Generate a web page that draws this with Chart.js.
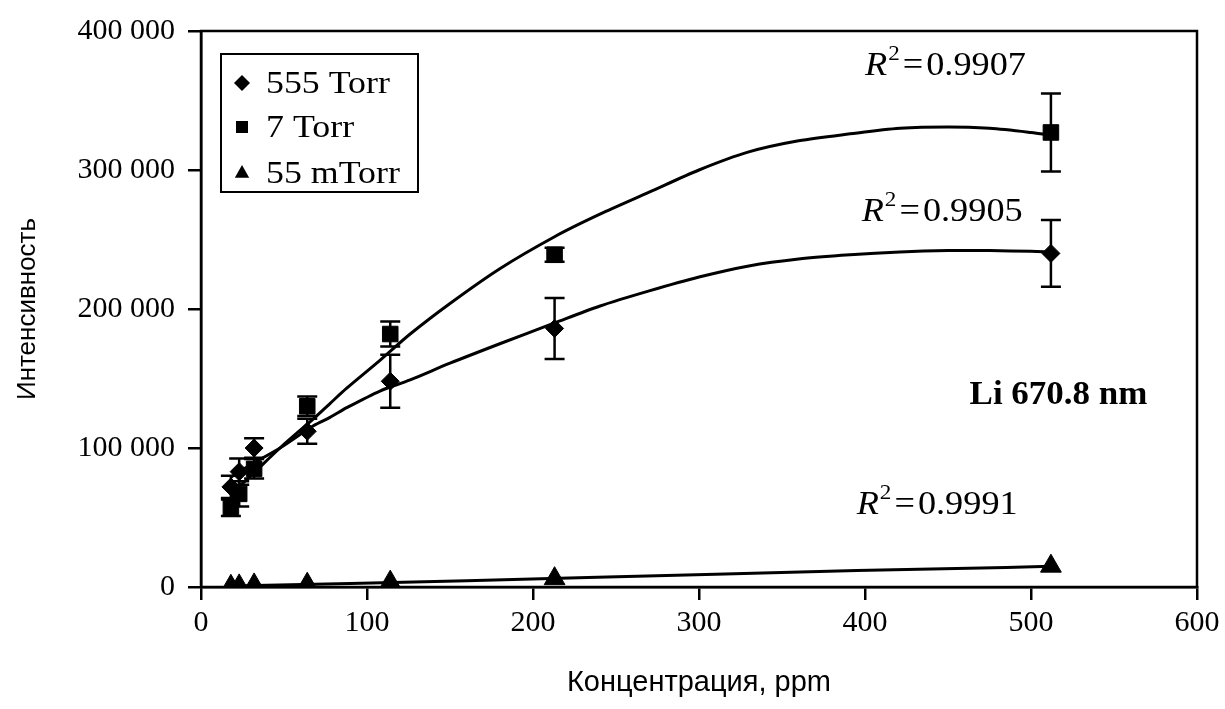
<!DOCTYPE html>
<html lang="ru">
<head>
<meta charset="utf-8">
<title>Li 670.8 nm</title>
<script src="https://cdn.jsdelivr.net/npm/chart.js@4.4.1/dist/chart.umd.min.js"></script>
<style>
    body { margin: 0; background: #fff; }
    #wrap { width: 1225px; height: 709px; }
</style>
</head>
<body>
<div id="wrap"><canvas id="myChart" width="1225" height="709"></canvas></div>
<script>
// Концентрации образцов, ppm
var concentrations = [18, 23, 32, 64, 114, 213, 512];

// Интенсивность линии Li 670.8 nm при разных давлениях
var int555Torr = [72000, 83000, 100000, 112000, 148000, 186000, 240000];
var err555Torr = [8000, 9500, 7000, 9000, 19000, 22000, 24000];
var int7Torr = [57000, 67000, 85000, 130000, 182000, 239000, 327000];
var err7Torr = [6000, 9000, 7000, 7000, 9000, 5000, 28000];
var int55mTorr = [500, 800, 1500, 2000, 3500, 6000, 15000];

// Линии тренда (полиномиальная аппроксимация)
var trendX = [18, 30, 47.6, 67.7, 77.7, 87.8, 107.8, 126, 150, 180, 213, 240, 270, 300, 330, 360, 391, 421, 450, 475, 500, 512];
var trend555Torr = [79000, 88000, 100000, 116000, 122000, 129000, 141000, 149000, 161000, 175000, 190000, 202000, 213000, 223000, 231000, 236000, 239000, 241000, 242000, 242000, 241500, 241000];
var trend7Torr = [67000, 80000, 100000, 121000, 132000, 143000, 163000, 182000, 204000, 229000, 252000, 268000, 284000, 300000, 313000, 321000, 326000, 330000, 331000, 330000, 327000, 325000];
var trendMX = [18, 90, 160, 233, 310, 395, 485, 512];
var trend55mTorr = [700, 2500, 4500, 6800, 9200, 11800, 14000, 15000];

var r2Labels = ['0.9907', '0.9905', '0.9991'];

var serif = '"Liberation Serif", "Times New Roman", serif';
var sans = '"Liberation Sans", Arial, sans-serif';

function toPoints(xs, ys) {
    return xs.map(function (x, i) { return { x: x, y: ys[i] }; });
}

function spaced(v) {
    return String(v).replace(/\B(?=(\d{3})+(?!\d))/g, ' ');
}

// маркер легенды той же формы, что и на графике
function drawMarker(ctx, style, x, y, r) {
    ctx.beginPath();
    if (style === 'rectRot') {
        ctx.moveTo(x - r, y); ctx.lineTo(x, y - r); ctx.lineTo(x + r, y); ctx.lineTo(x, y + r);
    } else if (style === 'rect') {
        ctx.rect(x - r * 0.75, y - r * 0.75, r * 1.5, r * 1.5);
    } else {
        ctx.moveTo(x, y - r); ctx.lineTo(x + r * 0.9, y + r * 0.6); ctx.lineTo(x - r * 0.9, y + r * 0.6);
    }
    ctx.closePath();
    ctx.fill();
}

// текст, немного растянутый по горизонтали
function wideText(ctx, text, x, y, sx) {
    ctx.save();
    ctx.translate(x, y);
    ctx.scale(sx, 1);
    ctx.fillText(text, 0, 0);
    var w = ctx.measureText(text).width * sx;
    ctx.restore();
    return w;
}

// Погрешности
var errorBars = {
    id: 'errorBars',
    beforeDatasetsDraw: function (chart) {
        var ctx = chart.ctx, xs = chart.scales.x, ys = chart.scales.y;
        var sets = [[int555Torr, err555Torr], [int7Torr, err7Torr]];
        ctx.save();
        ctx.strokeStyle = '#000';
        ctx.lineWidth = 2.5;
        sets.forEach(function (s) {
            for (var i = 0; i < concentrations.length; i++) {
                var x = xs.getPixelForValue(concentrations[i]);
                var yt = ys.getPixelForValue(s[0][i] + s[1][i]);
                var yb = ys.getPixelForValue(s[0][i] - s[1][i]);
                ctx.beginPath();
                ctx.moveTo(x, yt); ctx.lineTo(x, yb);
                ctx.moveTo(x - 10, yt); ctx.lineTo(x + 10, yt);
                ctx.moveTo(x - 10, yb); ctx.lineTo(x + 10, yb);
                ctx.stroke();
            }
        });
        ctx.restore();
    }
};

// Рамка, легенда и подписи R^2
var extras = {
    id: 'extras',
    afterDraw: function (chart) {
        var ctx = chart.ctx, a = chart.chartArea;
        var xs = chart.scales.x, ys = chart.scales.y;
        ctx.save();
        ctx.strokeStyle = '#000';
        ctx.fillStyle = '#000';
        ctx.lineWidth = 2.5;
        ctx.strokeRect(a.left, a.top, a.right - a.left, a.bottom - a.top);

        // легенда
        ctx.lineWidth = 2;
        ctx.fillStyle = '#fff';
        ctx.fillRect(221, 54, 197, 138);
        ctx.fillStyle = '#000';
        ctx.strokeRect(221, 54, 197, 138);
        ctx.font = '32px ' + serif;
        ctx.textBaseline = 'alphabetic';
        var rows = [93, 137, 183];
        for (var i = 0; i < 3; i++) {
            var ds = chart.data.datasets[i];
            drawMarker(ctx, ds.pointStyle, 242, rows[i] - 10, 8);
            wideText(ctx, ds.label, 266, rows[i], 1.12);
        }

        // коэффициенты детерминации
        var spots = [[400, 368000], [398, 263400], [395, 52600]];
        spots.forEach(function (p, k) {
            var x = xs.getPixelForValue(p[0]);
            var y = ys.getPixelForValue(p[1]);
            ctx.font = 'italic 33px ' + serif;
            x += wideText(ctx, 'R', x, y, 1.1) + 1;
            ctx.font = '21px ' + serif;
            x += wideText(ctx, '2', x, y - 15, 1.1) + 3;
            ctx.font = '33px ' + serif;
            x += wideText(ctx, '=', x, y, 1.1) + 3;
            wideText(ctx, r2Labels[k], x, y, 1.1);
        });

        ctx.font = 'bold 33px ' + serif;
        wideText(ctx, 'Li 670.8 nm', xs.getPixelForValue(463), ys.getPixelForValue(131600), 1.06);
        ctx.restore();
    }
};

var ctx = document.getElementById('myChart').getContext('2d');

var myChart = new Chart(ctx, {
    type: 'scatter',
    data: {
        datasets: [{
            label: '555 Torr',
            data: toPoints(concentrations, int555Torr),
            pointStyle: 'rectRot',
            pointRadius: 9,
            backgroundColor: '#000',
            borderColor: '#000'
        }, {
            label: '7 Torr',
            data: toPoints(concentrations, int7Torr),
            pointStyle: 'rect',
            pointRadius: 11,
            backgroundColor: '#000',
            borderColor: '#000'
        }, {
            label: '55 mTorr',
            data: toPoints(concentrations, int55mTorr),
            pointStyle: 'triangle',
            pointRadius: 12,
            backgroundColor: '#000',
            borderColor: '#000'
        }, {
            label: 'trend 555',
            data: toPoints(trendX, trend555Torr),
            showLine: true,
            pointRadius: 0,
            borderColor: '#000',
            borderWidth: 3,
            tension: 0.3
        }, {
            label: 'trend 7',
            data: toPoints(trendX, trend7Torr),
            showLine: true,
            pointRadius: 0,
            borderColor: '#000',
            borderWidth: 3,
            tension: 0.3
        }, {
            label: 'trend 55m',
            data: toPoints(trendMX, trend55mTorr),
            showLine: true,
            pointRadius: 0,
            borderColor: '#000',
            borderWidth: 3
        }]
    },
    options: {
        responsive: false,
        animation: false,
        layout: { padding: { left: 0, top: 27, right: 28, bottom: 0 } },
        plugins: {
            legend: { display: false },
            tooltip: { enabled: false }
        },
        scales: {
            x: {
                type: 'linear',
                min: 0,
                max: 600,
                ticks: { stepSize: 100, padding: 5, color: '#000', font: { family: serif, size: 30 } },
                grid: { drawOnChartArea: false, tickLength: 13, color: '#000', lineWidth: 2.5 },
                border: { color: '#000', width: 2.5 },
                title: {
                    display: true,
                    text: 'Концентрация, ppm',
                    color: '#000',
                    font: { family: sans, size: 29 },
                    padding: { top: 0, bottom: 9 }
                },
                afterFit: function (s) { s.height = 122; }
            },
            y: {
                min: 0,
                max: 400000,
                ticks: {
                    stepSize: 100000,
                    padding: 13,
                    color: '#000',
                    font: { family: serif, size: 30 },
                    callback: function (v) { return spaced(v); }
                },
                grid: { drawOnChartArea: false, tickLength: 13, color: '#000', lineWidth: 2.5 },
                border: { color: '#000', width: 2.5 },
                title: {
                    display: true,
                    text: 'Интенсивность',
                    color: '#000',
                    font: { family: sans, size: 26 },
                    padding: { top: 12, bottom: 0 }
                },
                afterFit: function (s) { s.width = 201; }
            }
        }
    },
    plugins: [errorBars, extras]
});
</script>
</body>
</html>
